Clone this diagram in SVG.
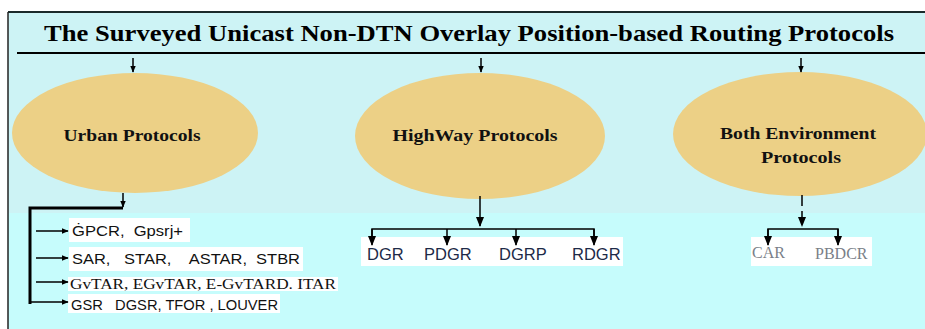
<svg xmlns="http://www.w3.org/2000/svg" width="925" height="329" viewBox="0 0 925 329">
<style>
.ell{fill:#ecd086}
.lbl{font-family:"Liberation Serif",serif;font-weight:bold;font-size:17px;fill:#111;text-anchor:middle}
.sans{font-family:"Liberation Sans",Arial,sans-serif;font-size:15px;fill:#111;white-space:pre}
.box{fill:#fff}
.ln{stroke:#000;fill:none;stroke-width:1.5}
</style>
<defs>
<marker id="ahs" viewBox="0 0 10 10" refX="9" refY="5" markerWidth="7" markerHeight="7" orient="auto" markerUnits="userSpaceOnUse">
<path d="M0,1 L10,5 L0,9 z" fill="#000"/>
</marker>
<marker id="ahb" viewBox="0 0 10 10" refX="9" refY="5" markerWidth="10" markerHeight="10" orient="auto" markerUnits="userSpaceOnUse">
<path d="M0,1 L10,5 L0,9 z" fill="#000"/>
</marker>
</defs>
<rect x="0" y="0" width="925" height="329" fill="#fff"/>
<rect x="8" y="13" width="917" height="200" fill="#cdf3f5"/>
<rect x="8" y="213" width="917" height="116" fill="#c6fcfc"/>
<line x1="8" y1="12" x2="925" y2="12" stroke="#1a2a2a" stroke-width="2"/>
<line x1="8" y1="12" x2="8" y2="329" stroke="#222" stroke-width="1.5"/>
<g id="title">
<text x="469" y="41" font-family="'Liberation Serif',serif" font-weight="bold" font-size="24" text-anchor="middle" textLength="850" lengthAdjust="spacingAndGlyphs" fill="#000">The Surveyed Unicast Non-DTN Overlay Position-based Routing Protocols</text>
<line x1="17" y1="53" x2="925" y2="53" stroke="#000" stroke-width="2"/>
</g>
<g id="urban">
<ellipse class="ell" cx="135" cy="133" rx="123" ry="60"/>
<text class="lbl" x="132" y="141" textLength="137" lengthAdjust="spacingAndGlyphs">Urban Protocols</text>
</g>
<g id="highway">
<ellipse class="ell" cx="480" cy="136" rx="125" ry="63"/>
<text class="lbl" x="475" y="141" textLength="165" lengthAdjust="spacingAndGlyphs">HighWay Protocols</text>
</g>
<g id="both">
<ellipse class="ell" cx="800" cy="134" rx="127" ry="62"/>
<text class="lbl" x="798" y="139" textLength="156" lengthAdjust="spacingAndGlyphs">Both Environment</text>
<text class="lbl" x="801" y="163" textLength="80" lengthAdjust="spacingAndGlyphs">Protocols</text>
</g>
<g id="urban-list">
<rect class="box" x="69" y="218" width="121" height="24"/>
<text class="sans" x="72" y="236" textLength="111" lengthAdjust="spacingAndGlyphs">ĠPCR,  Gpsrj+</text>
<rect class="box" x="69" y="247" width="234" height="24"/>
<text class="sans" x="72" y="264" textLength="228" lengthAdjust="spacingAndGlyphs">SAR,   STAR,    ASTAR,  STBR</text>
<rect class="box" x="68" y="277" width="270" height="14"/>
<text x="70" y="289" font-family="'Liberation Serif',serif" font-size="15" fill="#111" textLength="266" lengthAdjust="spacingAndGlyphs">GvTAR, EGvTAR, E-GvTARD. ITAR</text>
<rect class="box" x="68" y="294" width="212" height="19"/>
<text class="sans" x="71" y="310" textLength="207" lengthAdjust="spacingAndGlyphs">GSR   DGSR, TFOR , LOUVER</text>
</g>
<g id="highway-list">
<rect class="box" x="361" y="237" width="262" height="29"/>
<g font-family="'Liberation Sans',Arial,sans-serif" font-size="16.5" fill="#1d2a48">
<text x="367" y="260">DGR</text>
<text x="424" y="260">PDGR</text>
<text x="499" y="260">DGRP</text>
<text x="572" y="260">RDGR</text>
</g>
</g>
<g id="both-list">
<rect class="box" x="751" y="237" width="121" height="29"/>
<g font-family="'Liberation Serif',serif" font-size="16" fill="#7a7f88">
<text x="752" y="258">CAR</text>
<text x="815" y="259">PBDCR</text>
</g>
</g>
<g id="connectors">
<line class="ln" x1="133" y1="58" x2="133" y2="72" marker-end="url(#ahs)"/>
<line class="ln" x1="481" y1="58" x2="481" y2="72" marker-end="url(#ahs)"/>
<line class="ln" x1="801" y1="58" x2="801" y2="72" marker-end="url(#ahs)"/>
<line class="ln" x1="123" y1="193" x2="123" y2="207" marker-end="url(#ahs)"/>
<polyline fill="none" stroke="#000" stroke-width="3" points="123,208 30,208 30,304"/>
<line class="ln" x1="36" y1="231" x2="68" y2="231" marker-end="url(#ahs)"/>
<line class="ln" x1="36" y1="258" x2="68" y2="258" marker-end="url(#ahs)"/>
<line class="ln" x1="36" y1="282" x2="68" y2="282" marker-end="url(#ahs)"/>
<line class="ln" x1="31" y1="302" x2="68" y2="302" marker-end="url(#ahs)"/>
<line class="ln" x1="480" y1="196" x2="480" y2="226" marker-end="url(#ahb)"/>
<polyline class="ln" points="372,236 372,229 594,229 594,236"/>
<line class="ln" x1="372" y1="229" x2="372" y2="245" marker-end="url(#ahb)"/>
<line class="ln" x1="447" y1="229" x2="447" y2="245" marker-end="url(#ahb)"/>
<line class="ln" x1="516" y1="229" x2="516" y2="245" marker-end="url(#ahb)"/>
<line class="ln" x1="594" y1="229" x2="594" y2="245" marker-end="url(#ahb)"/>
<line class="ln" x1="802" y1="195" x2="802" y2="226" stroke-dasharray="11,5" marker-end="url(#ahb)"/>
<polyline class="ln" points="768,236 768,229 838,229 838,236"/>
<line class="ln" x1="768" y1="229" x2="768" y2="245" marker-end="url(#ahb)"/>
<line class="ln" x1="838" y1="229" x2="838" y2="245" marker-end="url(#ahb)"/>
</g>
</svg>
